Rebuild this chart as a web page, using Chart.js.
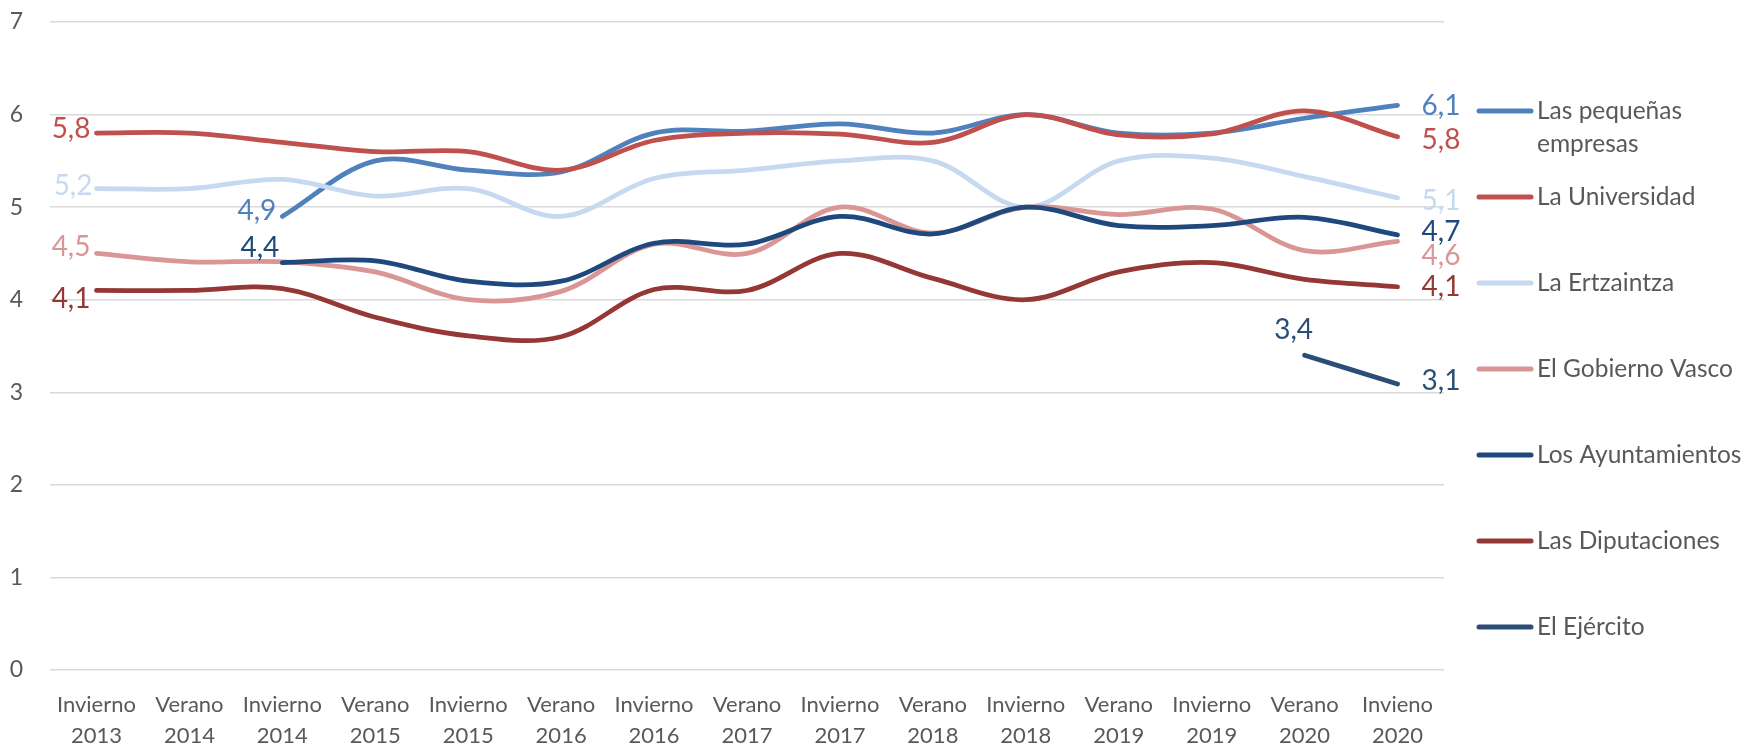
<!DOCTYPE html>
<html><head><meta charset="utf-8">
<script src="https://cdn.jsdelivr.net/npm/chart.js@4/dist/chart.umd.min.js"></script>
<style>html,body{margin:0;padding:0;background:#fff}canvas{display:block}</style>
</head><body>
<canvas id="c" width="1746" height="749"></canvas>
<script>
// ---- data ----
const categories = [
  ['Invierno','2013'],['Verano','2014'],['Invierno','2014'],['Verano','2015'],
  ['Invierno','2015'],['Verano','2016'],['Invierno','2016'],['Verano','2017'],
  ['Invierno','2017'],['Verano','2018'],['Invierno','2018'],['Verano','2019'],
  ['Invierno','2019'],['Verano','2020'],['Invieno','2020']
];
const yTicks = [0,1,2,3,4,5,6,7];
const seriesNames = ['Las pequeñas empresas','La Universidad','La Ertzaintza','El Gobierno Vasco','Los Ayuntamientos','Las Diputaciones','El Ejército'];
const pequenas      = [null,null,4.9,5.5,5.4,5.38,5.8,5.82,5.9,5.8,6.0,5.8,5.8,5.96,6.1];
const universidad   = [5.8,5.8,5.7,5.6,5.6,5.4,5.72,5.8,5.79,5.7,6.0,5.78,5.79,6.04,5.76];
const ertzaintza    = [5.2,5.2,5.3,5.12,5.2,4.9,5.31,5.4,5.5,5.5,5.0,5.5,5.53,5.33,5.1];
const gobiernoVasco = [4.5,4.41,4.41,4.3,4.0,4.09,4.6,4.5,5.0,4.72,5.0,4.92,4.98,4.53,4.63];
const ayuntamientos = [null,null,4.4,4.42,4.2,4.2,4.61,4.6,4.9,4.71,5.0,4.8,4.8,4.89,4.7];
const diputaciones  = [4.1,4.1,4.12,3.81,3.61,3.6,4.11,4.1,4.5,4.23,4.0,4.3,4.4,4.22,4.14];
const ejercito      = [null,null,null,null,null,null,null,null,null,null,null,null,null,3.4,3.09];

// ---- styles ----
const FONT = 'Lato, "Open Sans", sans-serif';
const colors = ['#4F81BD','#C0504D','#C6D9F1','#D99694','#1F497D','#953735','#2C4D75'];
const labelOffsets = [
  {first:{dx:-6,dy:-5,align:'right'}, last:{dx:24,dy:1}},
  {first:{dx:-6,dy:-4,align:'right'}, last:{dx:24,dy:3}},
  {first:{dx:-4,dy:-3,align:'right'}, last:{dx:24,dy:3}},
  {first:{dx:-6,dy:-6,align:'right'}, last:{dx:24,dy:15}},
  {first:{dx:-3,dy:-15,align:'right'}, last:{dx:24,dy:-3}},
  {first:{dx:-6,dy:9,align:'right'}, last:{dx:24,dy:0}},
  {first:{dx:-11,dy:-25,align:'center'}, last:{dx:24,dy:-3}}
];
const seriesData = [pequenas,universidad,ertzaintza,gobiernoVasco,ayuntamientos,diputaciones,ejercito];

const fmt = v => v.toFixed(1).replace('.',',');

const labelPlugin = {
  id:'endLabels',
  afterDatasetsDraw(chart){
    const ctx = chart.ctx;
    ctx.save();
    ctx.font = '28px ' + FONT;
    ctx.textBaseline = 'middle';
    chart.data.datasets.forEach((ds,i)=>{
      const meta = chart.getDatasetMeta(i);
      const idx = ds.data.map((v,k)=>v==null?-1:k).filter(k=>k>=0);
      const fi = idx[0], li = idx[idx.length-1];
      const off = labelOffsets[i];
      ctx.fillStyle = colors[i];
      const pf = meta.data[fi];
      ctx.textAlign = off.first.align;
      ctx.fillText(fmt(ds.data[fi]), pf.x + off.first.dx, pf.y + off.first.dy);
      const pl = meta.data[li];
      ctx.textAlign = 'left';
      ctx.fillText(fmt(ds.data[li]), pl.x + off.last.dx, pl.y + off.last.dy);
    });
    ctx.restore();
  },
  afterDraw(chart){
    const ctx = chart.ctx;
    ctx.save();
    ctx.font = '24.5px ' + FONT;
    ctx.textBaseline = 'middle';
    ctx.textAlign = 'left';
    const x0 = 1479, x1 = 1531, tx = 1537, maxW = 212;
    let y = 111;
    chart.data.datasets.forEach((ds,i)=>{
      ctx.strokeStyle = colors[i];
      ctx.lineWidth = 5;
      ctx.lineCap = 'round';
      ctx.beginPath(); ctx.moveTo(x0,y); ctx.lineTo(x1,y); ctx.stroke();
      ctx.fillStyle = '#595959';
      const words = ds.label.split(' ');
      let lines = [], cur = '';
      words.forEach(w=>{
        const t = cur ? cur+' '+w : w;
        if (ctx.measureText(t).width > maxW && cur) { lines.push(cur); cur = w; } else cur = t;
      });
      lines.push(cur);
      lines.forEach((l,k)=>ctx.fillText(l, tx, y + k*33));
      y += 86;
    });
    ctx.restore();
  }
};

new Chart(document.getElementById('c'), {
  type:'line',
  data:{
    labels: categories,
    datasets: seriesData.map((d,i)=>({
      label: seriesNames[i],
      data: d,
      borderColor: colors[i],
      backgroundColor: colors[i],
      borderWidth: 4.75,
      borderCapStyle:'round',
      borderJoinStyle:'round',
      pointRadius: 0,
      pointHoverRadius: 0,
      tension: 0.35,
      fill:false,
      order: seriesData.length - i
    }))
  },
  options:{
    responsive:false,
    animation:false,
    events:[],
    layout:{padding:{left:0,right:302,top:22,bottom:0}},
    plugins:{legend:{display:false},tooltip:{enabled:false}},
    scales:{
      x:{
        type:'category',
        offset:true,
        grid:{display:false, drawTicks:false},
        border:{display:false},
        ticks:{color:'#595959', font:{family:FONT,size:22,lineHeight:1.4}, maxRotation:0, autoSkip:false, padding:20},
        afterFit(s){ s.height = 79; s.paddingLeft = 0; s.paddingRight = 0; }
      },
      y:{
        min:0, max:7,
        afterBuildTicks(s){ s.ticks = yTicks.map(v=>({value:v})); },
        grid:{color:'#D9D9D9', lineWidth:1.5, drawTicks:false},
        border:{display:false},
        ticks:{color:'#595959', font:{family:FONT,size:23}, padding:27},
        afterFit(s){ s.width = 50; s.paddingTop = 0; s.paddingBottom = 0; }
      }
    }
  },
  plugins:[labelPlugin]
});
</script>
</body></html>
